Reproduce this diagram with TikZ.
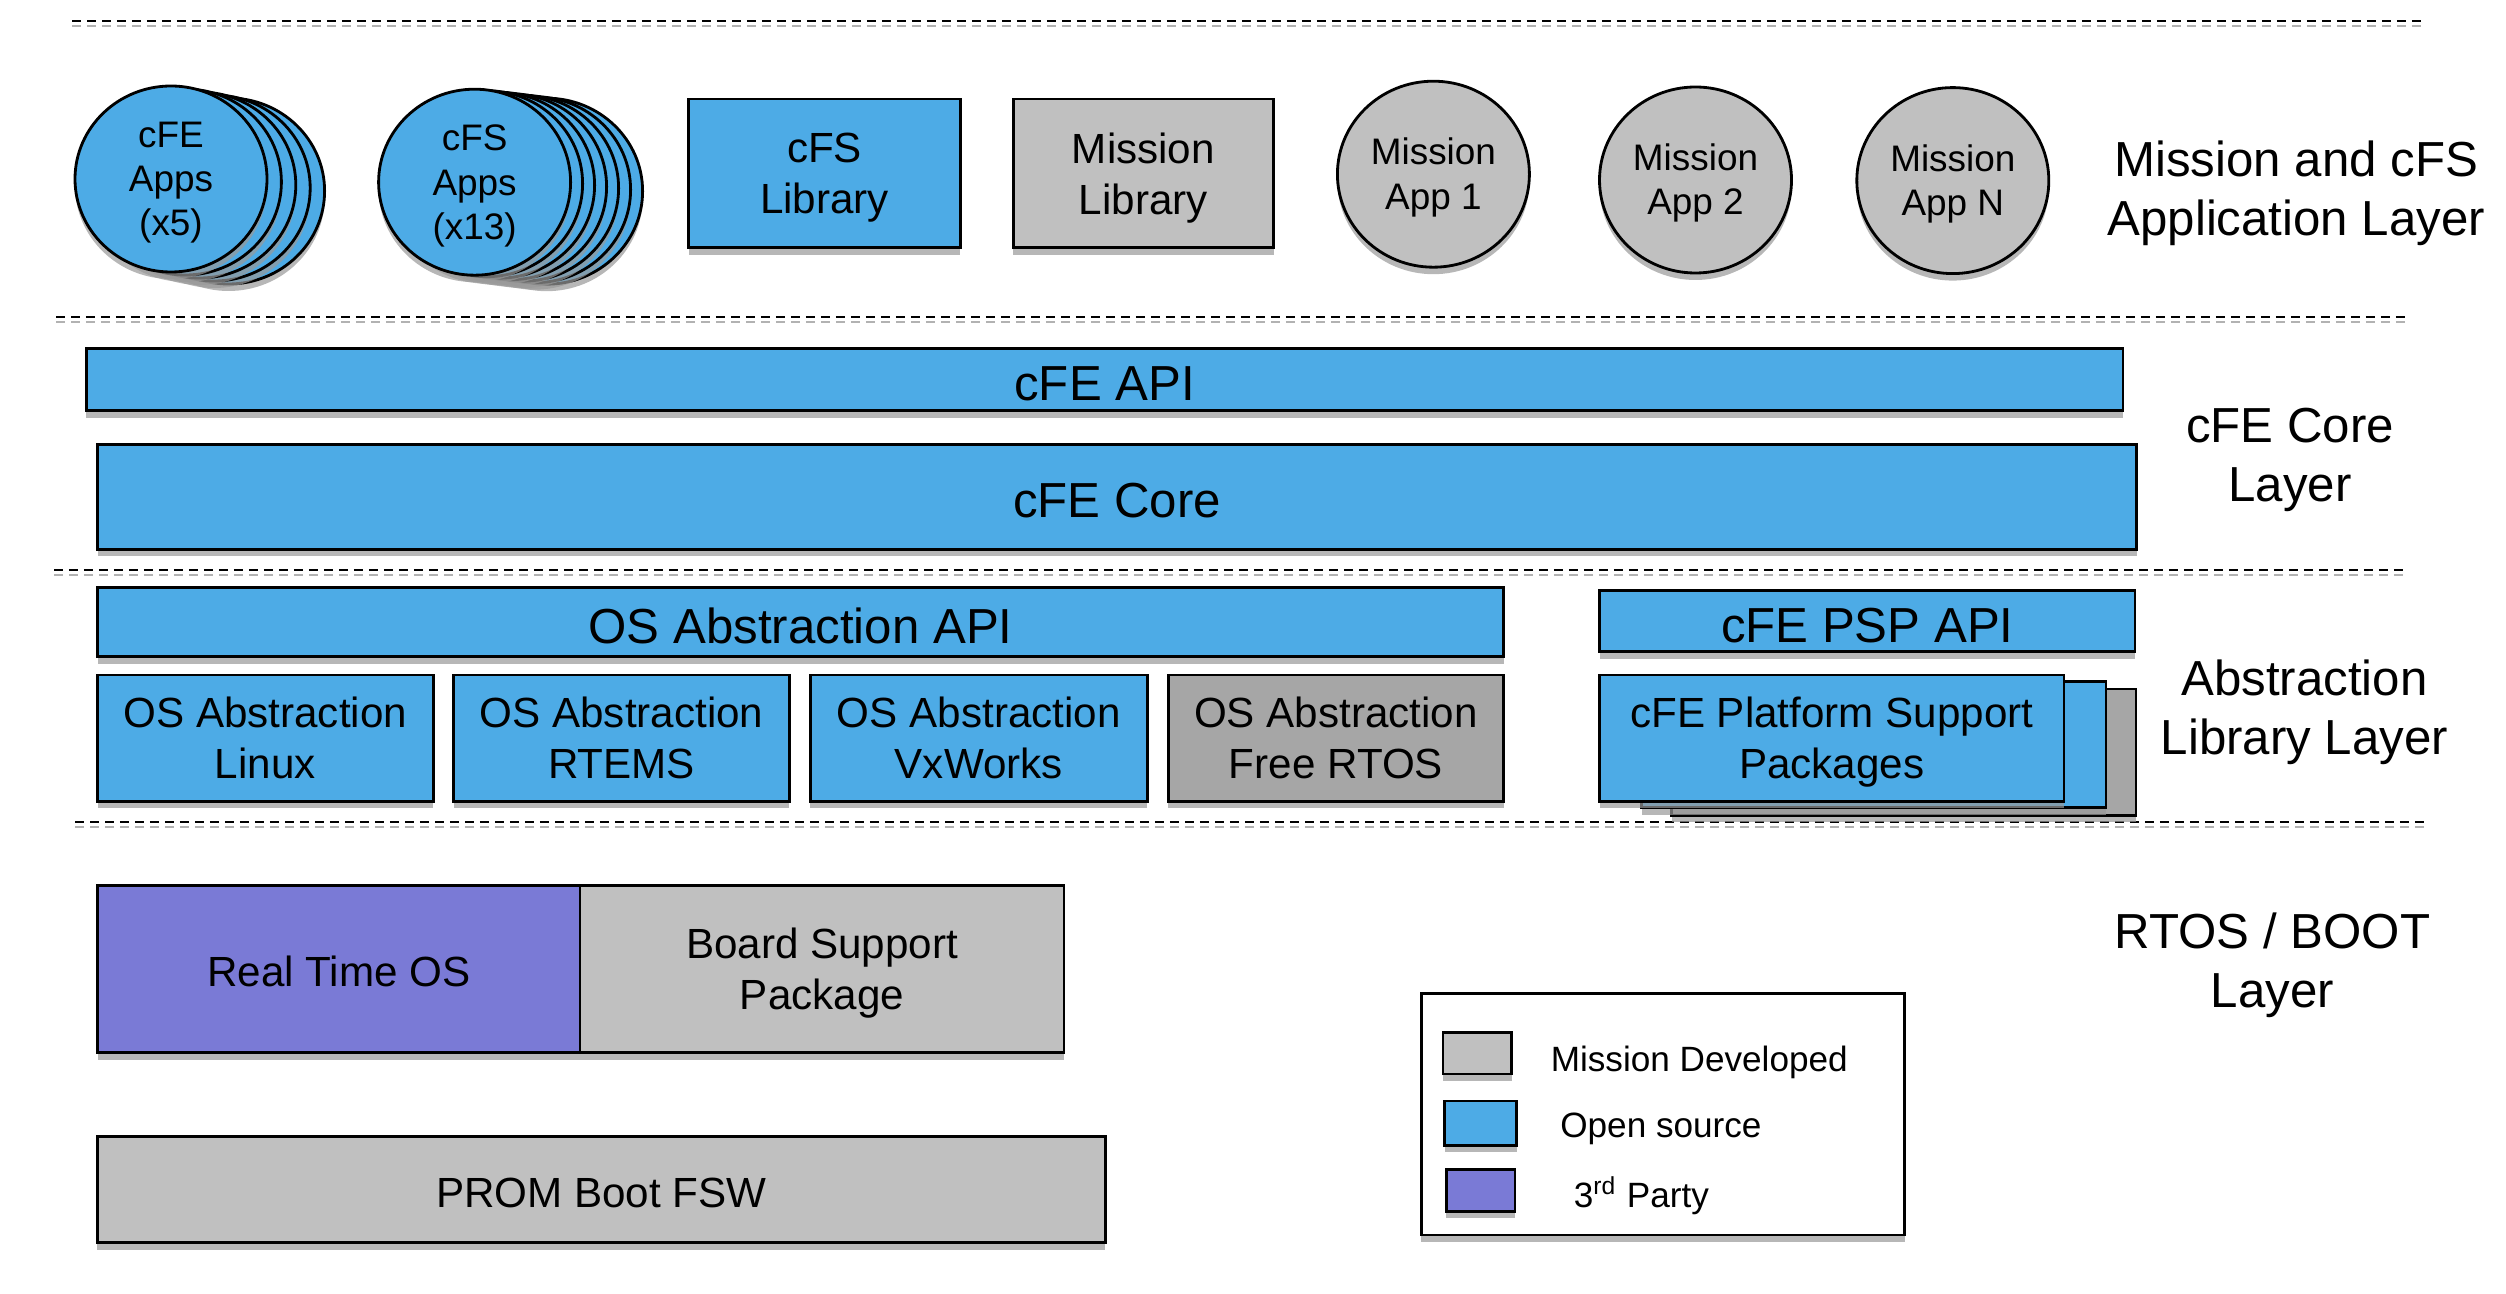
\documentclass[tikz,border=0pt]{standalone}
\usepackage{fontspec}
\setmainfont{Liberation Sans}
\usetikzlibrary{shapes}
\usetikzlibrary{shadows}
\definecolor{osblue}{RGB}{77,171,230}
\definecolor{msgray}{RGB}{192,192,192}
\definecolor{dkgray}{RGB}{166,166,166}
\definecolor{tppurple}{RGB}{122,122,214}
\tikzset{
    lowtext/.style = {execute at begin node={\rule{0pt}{#1}}}, % single lines only
    myshadow/.style = {drop shadow={shadow xshift=0pt,shadow yshift=-0.07cm,fill=black!40,opacity=0.7}},
    mybox/.style = {rectangle, draw=black, line width=0.8pt, fill=osblue, inner sep=0pt, align=center, myshadow, text depth=-0.05em, font=\fontsize{12}{14.5}\selectfont},
    myboxg/.style = {mybox, fill=msgray},
    myboxd/.style = {mybox, fill=dkgray},
    myboxp/.style = {mybox, fill=tppurple},
    mybar/.style = {mybox, lowtext=0.85em, font=\fontsize{14}{16.8}\selectfont},
    myapp/.style = {ellipse, draw=black, line width=0.8pt, fill=osblue, inner sep=0pt, align=center, myshadow, text depth=0.03em, minimum width=1.92cm, minimum height=1.86cm, font=\fontsize{10.5}{12.6}\selectfont},
    myappg/.style = {myapp, fill=msgray},
    layer/.style = {align=center, text depth=0pt, font=\fontsize{14}{16.8}\selectfont},
    sepk/.style = {line width=0.8pt, dash pattern=on 0.09cm off 0.06cm}, % black dashes
    sepg/.style = {sepk, draw=black!30}, % gray dashes below
    legend/.style = {anchor=west, inner sep=0pt, lowtext=1em, font=\fontsize{10}{12}\selectfont}
}

\begin{document}
\begin{tikzpicture}
\useasboundingbox (0,0) rectangle (25.06,-12.94);
% separators
\draw[sepk] (0.72,-0.21) -- (24.21,-0.21);
\draw[sepg] (0.72,-0.26) -- (24.21,-0.26);
\draw[sepk] (0.56,-3.17) -- (24.05,-3.17);
\draw[sepg] (0.56,-3.22) -- (24.05,-3.22);
\draw[sepk] (0.54,-5.70) -- (24.08,-5.70);
\draw[sepg] (0.54,-5.75) -- (24.08,-5.75);
\draw[sepk] (0.75,-8.22) -- (24.29,-8.22);
\draw[sepg] (0.75,-8.27) -- (24.29,-8.27);
%
% application layer
\node[myapp] at (2.286,-1.910) (cfea4) {};
\node[myapp] at (2.142,-1.880) (cfea3) {};
\node[myapp] at (1.998,-1.850) (cfea2) {};
\node[myapp] at (1.854,-1.820) (cfea1) {};
\node[myapp, text depth=-0.2em] at (1.710,-1.790) (cfeapps) {cFE\\Apps\\(x5)};
\node[myapp] at (5.466,-1.912) (cfsa6) {};
\node[myapp] at (5.346,-1.897) (cfsa5) {};
\node[myapp] at (5.226,-1.882) (cfsa4) {};
\node[myapp] at (5.106,-1.867) (cfsa3) {};
\node[myapp] at (4.986,-1.852) (cfsa2) {};
\node[myapp] at (4.866,-1.837) (cfsa1) {};
\node[myapp, text depth=-0.2em] at (4.746,-1.822) (cfsapps) {cFS\\Apps\\(x13)};
\node[mybox, minimum width=2.717cm, minimum height=1.486cm] at (8.246,-1.734) (cfslib) {cFS\\Library};
\node[myboxg, minimum width=2.605cm, minimum height=1.486cm] at (11.434,-1.734) (mislib) {Mission\\Library};
\node[myappg] at (14.334,-1.742) (app1) {Mission\\App 1};
\node[myappg] at (16.955,-1.800) (app2) {Mission\\App 2};
\node[myappg] at (19.528,-1.806) (appn) {Mission\\App N};
\node[layer] at (22.963,-1.878) (lapp) {Mission and cFS\\Application Layer};
%
% cfe core layer
\node[mybar, minimum width=20.366cm, minimum height=0.623cm] at (11.046,-3.795) (cfeapi) {cFE API};
\node[mybar, minimum width=20.390cm, minimum height=1.049cm] at (11.170,-4.967) (cfecore) {cFE Core};
\node[layer] at (22.899,-4.546) (lcore) {cFE Core\\Layer};
%
% abstraction library layer
\node[mybar, minimum width=14.062cm, minimum height=0.694cm] at (8.006,-6.221) (osalapi) {OS Abstraction API};
\node[mybar, minimum width=5.353cm, minimum height=0.611cm] at (18.673,-6.212) (pspapi) {cFE PSP API};
\node[mybox, minimum width=3.356cm, minimum height=1.261cm] at (2.653,-7.381) (linux) {OS Abstraction\\Linux};
\node[mybox, minimum width=3.356cm, minimum height=1.261cm] at (6.216,-7.381) (rtems) {OS Abstraction\\RTEMS};
\node[mybox, minimum width=3.372cm, minimum height=1.261cm] at (9.788,-7.381) (vxworks) {OS Abstraction\\VxWorks};
\node[myboxd, minimum width=3.356cm, minimum height=1.261cm] at (13.359,-7.381) (freertos) {OS Abstraction\\Free RTOS};
\node[myboxd, minimum width=4.644cm, minimum height=1.261cm] at (19.038,-7.521) (psp3) {};
\node[mybox, minimum width=4.644cm, minimum height=1.261cm] at (18.738,-7.446) (psp2) {};
\node[mybox, minimum width=4.644cm, minimum height=1.261cm] at (18.318,-7.381) (psp) {cFE Platform Support\\Packages};
\node[layer] at (23.043,-7.071) (labs) {Abstraction\\Library Layer};
%
% rtos / boot layer
\node[myboxp, lowtext=0.85em, minimum width=4.826cm, minimum height=1.673cm] at (3.388,-9.690) (rtos) {Real Time OS};
\node[myboxg, minimum width=4.839cm, minimum height=1.673cm] at (8.220,-9.690) (bsp) {Board Support\\Package};
\node[myboxg, lowtext=0.85em, minimum width=10.077cm, minimum height=1.059cm] at (6.013,-11.897) (prom) {PROM Boot FSW};
\node[layer] at (22.724,-9.601) (lboot) {RTOS / BOOT\\Layer};
%
% legend
\node[rectangle, draw=black, line width=0.8pt, fill=white, myshadow, minimum width=4.834cm, minimum height=2.417cm] at (16.631,-11.141) (legend) {};
\node[myboxg, minimum width=0.687cm, minimum height=0.416cm] at (14.774,-10.531) (kmis) {};
\node[mybox, minimum width=0.719cm, minimum height=0.441cm] at (14.806,-11.231) (kopen) {};
\node[myboxp, minimum width=0.687cm, minimum height=0.416cm] at (14.806,-11.905) (kthird) {};
\node[legend] at (15.501,-10.572) (tmis) {Mission Developed};
\node[legend] at (15.596,-11.234) (topen) {Open source};
\node[legend] at (15.732,-11.931) (tthird) {3\textsuperscript{rd} Party};

\end{tikzpicture}
\end{document}
